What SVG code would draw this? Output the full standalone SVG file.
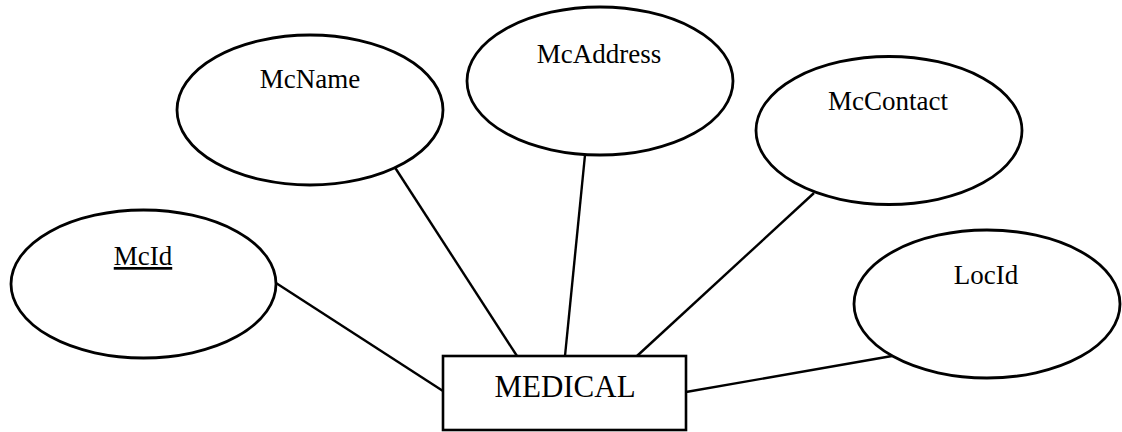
<svg xmlns="http://www.w3.org/2000/svg" width="1122" height="432" viewBox="0 0 1122 432">
<style>
.attr{fill:#fff;stroke:#000;stroke-width:2.8}
.ent{fill:#fff;stroke:#000;stroke-width:2.6}
.lbl{font-family:"Liberation Serif","Times New Roman",serif;font-size:27px;fill:#000;text-anchor:middle}
.big{font-size:31px}
.conn line{stroke:#000;stroke-width:2.4}
</style>
<rect width="1122" height="432" fill="#fff"/>
<g id="connectors" class="conn">
<line x1="276" y1="283" x2="443" y2="391"/>
<line x1="394" y1="166" x2="517" y2="356"/>
<line x1="585" y1="155" x2="565" y2="356"/>
<line x1="814" y1="193" x2="637" y2="356"/>
<line x1="892" y1="356" x2="686" y2="392"/>
</g>
<g id="McId">
<ellipse class="attr" cx="143.5" cy="284" rx="132.5" ry="74"/>
<text class="lbl" x="143" y="265" text-decoration="underline">McId</text>
</g>
<g id="McName">
<ellipse class="attr" cx="310" cy="110" rx="133" ry="75"/>
<text class="lbl" x="310" y="88">McName</text>
</g>
<g id="McAddress">
<ellipse class="attr" cx="600" cy="81" rx="133" ry="74"/>
<text class="lbl" x="599" y="63">McAddress</text>
</g>
<g id="McContact">
<ellipse class="attr" cx="889" cy="130.5" rx="133" ry="74"/>
<text class="lbl" x="888" y="110">McContact</text>
</g>
<g id="LocId">
<ellipse class="attr" cx="987" cy="304" rx="133" ry="74"/>
<text class="lbl" x="986" y="284">LocId</text>
</g>
<g id="MEDICAL">
<rect class="ent" x="443" y="356" width="243" height="74"/>
<text class="lbl big" x="565" y="397">MEDICAL</text>
</g>
</svg>
